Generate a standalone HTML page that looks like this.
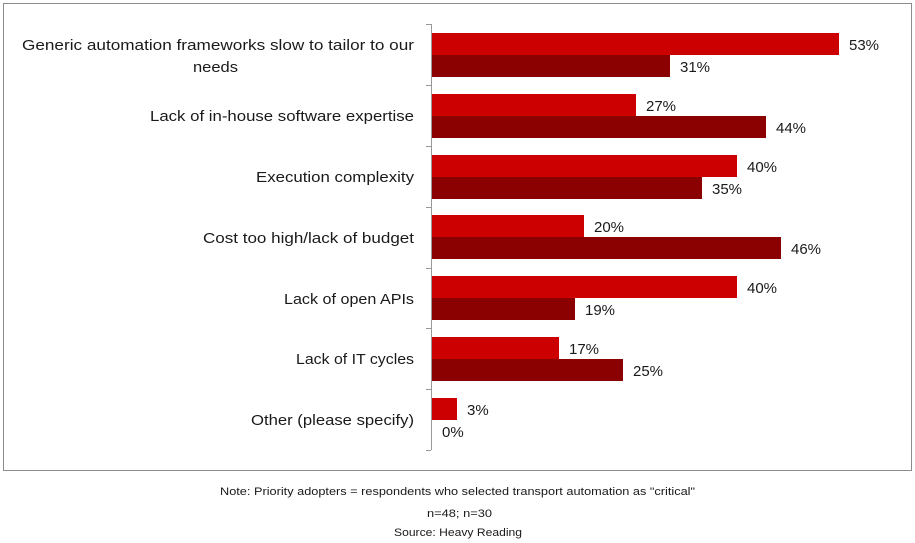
<!DOCTYPE html>
<html><head><style>body{margin:0;background:#fff}svg{display:block}text{font-family:"Liberation Sans",sans-serif}</style></head>
<body>
<svg width="915" height="543" xmlns="http://www.w3.org/2000/svg">
<rect x="3.5" y="3.5" width="908" height="467" fill="#fff" stroke="#8c8c8c"/>
<g fill="#cc0000">
<rect x="432" y="33" width="407" height="22"/>
<rect x="432" y="94" width="204" height="22"/>
<rect x="432" y="155" width="305" height="22"/>
<rect x="432" y="215" width="152" height="22"/>
<rect x="432" y="276" width="305" height="22"/>
<rect x="432" y="337" width="127" height="22"/>
<rect x="432" y="398" width="25" height="22"/>
</g>
<g fill="#8b0000">
<rect x="432" y="55" width="238" height="22"/>
<rect x="432" y="116" width="334" height="22"/>
<rect x="432" y="177" width="270" height="22"/>
<rect x="432" y="237" width="349" height="22"/>
<rect x="432" y="298" width="143" height="22"/>
<rect x="432" y="359" width="191" height="22"/>
</g>
<g stroke="#999" stroke-width="1">
<line x1="431.5" y1="24" x2="431.5" y2="450"/>
<line x1="426" y1="24.5" x2="431" y2="24.5"/>
<line x1="426" y1="85.5" x2="431" y2="85.5"/>
<line x1="426" y1="146.5" x2="431" y2="146.5"/>
<line x1="426" y1="207.5" x2="431" y2="207.5"/>
<line x1="426" y1="268.5" x2="431" y2="268.5"/>
<line x1="426" y1="328.5" x2="431" y2="328.5"/>
<line x1="426" y1="389.5" x2="431" y2="389.5"/>
<line x1="426" y1="450.5" x2="431" y2="450.5"/>
</g>
<g font-size="15" fill="#1a1a1a">
<text x="849" y="50">53%</text><text x="680" y="72">31%</text>
<text x="646" y="111">27%</text><text x="776" y="133">44%</text>
<text x="747" y="172">40%</text><text x="712" y="194">35%</text>
<text x="594" y="232">20%</text><text x="791" y="254">46%</text>
<text x="747" y="293">40%</text><text x="585" y="315">19%</text>
<text x="569" y="354">17%</text><text x="633" y="376">25%</text>
<text x="467" y="415">3%</text><text x="442" y="437">0%</text>
</g>
<g font-size="15" fill="#1a1a1a" lengthAdjust="spacingAndGlyphs">
<text x="22" y="50" textLength="392" lengthAdjust="spacingAndGlyphs">Generic automation frameworks slow to tailor to our</text>
<text x="193" y="72" textLength="45" lengthAdjust="spacingAndGlyphs">needs</text>
<text x="150" y="121" textLength="264" lengthAdjust="spacingAndGlyphs">Lack of in-house software expertise</text>
<text x="256" y="182" textLength="158" lengthAdjust="spacingAndGlyphs">Execution complexity</text>
<text x="203" y="243" textLength="211" lengthAdjust="spacingAndGlyphs">Cost too high/lack of budget</text>
<text x="284" y="304" textLength="130" lengthAdjust="spacingAndGlyphs">Lack of open APIs</text>
<text x="296" y="364" textLength="118" lengthAdjust="spacingAndGlyphs">Lack of IT cycles</text>
<text x="251" y="425" textLength="163" lengthAdjust="spacingAndGlyphs">Other (please specify)</text>
</g>
<g font-size="11" fill="#1a1a1a">
<text x="220" y="495" textLength="475" lengthAdjust="spacingAndGlyphs">Note: Priority adopters = respondents who selected transport automation as "critical"</text>
<text x="427" y="517" textLength="65" lengthAdjust="spacingAndGlyphs">n=48; n=30</text>
<text x="394" y="536" textLength="128" lengthAdjust="spacingAndGlyphs">Source: Heavy Reading</text>
</g>
</svg>
</body></html>
